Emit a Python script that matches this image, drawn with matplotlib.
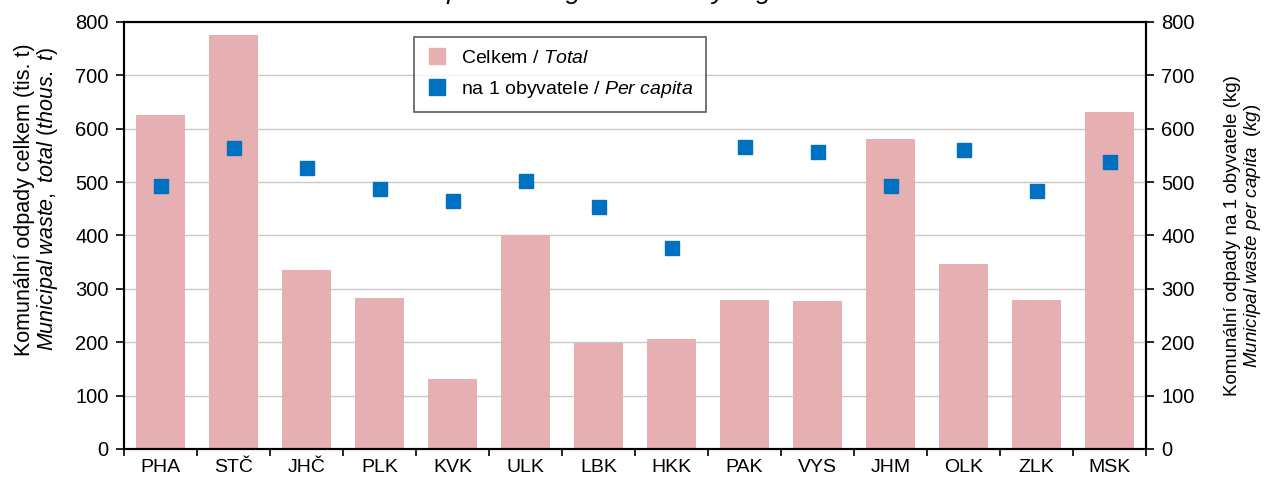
import matplotlib.pyplot as plt
from matplotlib.lines import Line2D

plt.rcParams["font.family"] = ["Liberation Sans", "DejaVu Sans"]
plt.rcParams["mathtext.fontset"] = "custom"
plt.rcParams["mathtext.rm"] = "Liberation Sans"
plt.rcParams["mathtext.it"] = "Liberation Sans:italic"

regions = ["PHA", "STČ", "JHČ", "PLK", "KVK", "ULK", "LBK",
           "HKK", "PAK", "VYS", "JHM", "OLK", "ZLK", "MSK"]
total = [625, 775, 336, 282, 131, 400, 199, 206, 280, 278, 581, 347, 279, 632]
per_capita = [493, 563, 527, 488, 465, 503, 454, 377, 565, 557, 493, 560, 483, 538]

bar_color = "#E6AFB2"
dot_color = "#0070C0"

fig = plt.figure(figsize=(12.68, 4.83), dpi=100)
ax = fig.add_axes([0.0978, 0.0704, 0.806, 0.8841])
ax2 = ax.twinx()

x = range(len(regions))
ax.bar(x, total, width=0.667, color=bar_color, zorder=2)
ax2.plot(x, per_capita, linestyle="none", marker="s", markersize=10,
         color=dot_color, zorder=3)

for a in (ax, ax2):
    a.set_ylim(0, 800)
    a.set_yticks(range(0, 801, 100))
    a.tick_params(axis="y", direction="out", length=6, width=1.2, labelsize=14.5, pad=5)
    for s in a.spines.values():
        s.set_linewidth(1.5)

ax.set_xlim(-0.5, len(regions) - 0.5)
ax.set_xticks(list(x))
ax.set_xticklabels(regions, fontsize=14)
ax.set_xticks([i - 0.5 for i in range(len(regions) + 1)], minor=True)
ax.tick_params(axis="x", which="major", length=0, pad=7)
ax.tick_params(axis="x", which="minor", length=5, width=1.2, direction="out")

ax.yaxis.grid(True, color="#C8C8C8", linewidth=1)
ax.set_axisbelow(True)

ax.set_ylabel("Komunální odpady celkem (tis. t)\n$\\it{Municipal\\ waste,\\ total\\ (thous.\\ t)}$",
              fontsize=15.5, linespacing=1.0)
ax.yaxis.set_label_coords(-0.0626, 0.585)
ax2.set_ylabel("Komunální odpady na 1 obyvatele (kg)\n$\\it{Municipal\\ waste\\ per\\ capita\\ \\ (kg)}$",
               fontsize=13.5, linespacing=1.05)
ax2.yaxis.set_label_coords(1.0763, 0.5)

handles = [
    Line2D([], [], linestyle="none", marker="s", markersize=12, color=bar_color),
    Line2D([], [], linestyle="none", marker="s", markersize=12, color=dot_color),
]
labels = ["Celkem / $\\it{Total}$", "na 1 obyvatele / $\\it{Per\\ capita}$"]
leg = ax2.legend(handles, labels, loc="upper left", bbox_to_anchor=(0.284, 0.965),
                 borderaxespad=0, fontsize=14, frameon=True, fancybox=False,
                 edgecolor="#333333", handlelength=1.0, handletextpad=0.77,
                 borderpad=0.65, labelspacing=0.6)
leg.get_frame().set_linewidth(1.2)

# title sits mostly above the canvas, as in the reference
fig.text(0.4645, 1 + 1 / 483, "Municipal waste generation by region",
         ha="center", va="baseline", fontsize=19, style="italic")

fig.savefig("out.png", dpi=100)
